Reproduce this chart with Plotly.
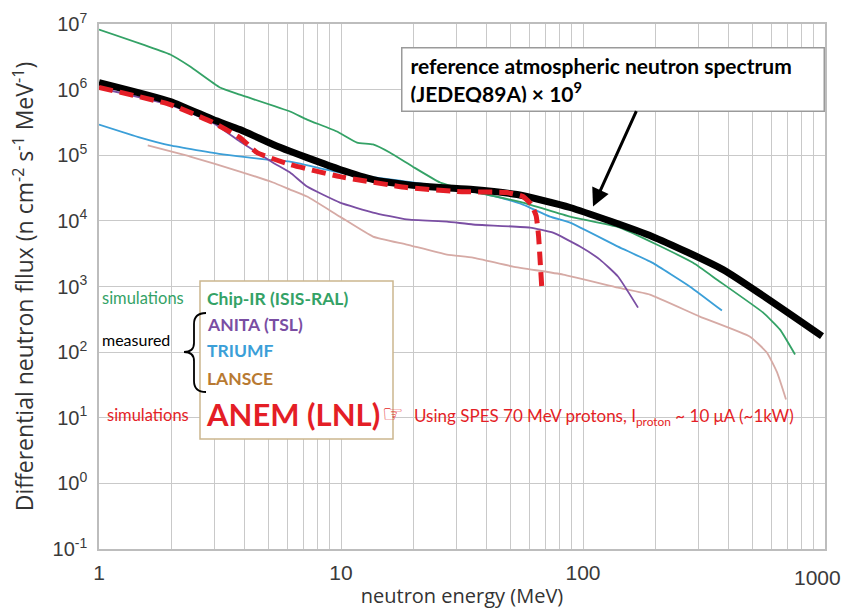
import numpy as np
import plotly.graph_objects as go

# ---------------- data ----------------
ref_E = [1, 1.97, 2.96, 3.82, 5.24, 6.16, 7.24, 9.9, 13.6, 18.7, 25.7, 35.1, 53.4, 88.4, 193, 379, 972]
ref_F = [1.28e6, 6.6e5, 3.5e5, 2.46e5, 1.46e5, 1.15e5, 9.2e4, 6.06e4, 4.26e4, 3.57e4, 3.22e4, 3.0e4, 2.52e4, 1.6e4, 5.8e3, 1.81e3, 175]

chip_E = [1, 1.97, 2.38, 3.16, 3.82, 6.16, 7.24, 9.63, 11.65, 13.56, 15.9, 19.8, 25.7, 35.1, 56.5, 88.4, 142, 285, 358, 555, 652, 752]
chip_F = [8.25e6, 3.43e6, 2.25e6, 1.08e6, 8.4e5, 4.64e5, 3.5e5, 2.3e5, 1.56e5, 1.46e5, 1.1e5, 6.7e4, 3.84e4, 2.8e4, 1.9e4, 1.16e4, 7.9e3, 2.3e3, 1.27e3, 400, 220, 92]

anita_E = [1, 1.97, 2.96, 3.82, 5.24, 6.16, 7.24, 9.9, 13.56, 18.7, 27.4, 35.1, 60.4, 75.2, 97.2, 117.5, 139.5, 168.8]
anita_F = [1.06e6, 5.85e5, 3.1e5, 1.62e5, 7.7e4, 5.45e4, 3.33e4, 1.9e4, 1.34e4, 1.05e4, 9.76e3, 8.8e3, 7.9e3, 6.6e3, 4.06e3, 2.57e3, 1.42e3, 477]

triumf_E = [1, 1.48, 1.97, 3.25, 4.95, 6.16, 9.9, 18.7, 35.1, 45.4, 56.5, 73, 88.4, 139.5, 193, 277, 375]
triumf_F = [2.94e5, 1.86e5, 1.41e5, 1.03e5, 8.6e4, 8.0e4, 5.45e4, 3.97e4, 2.8e4, 2.26e4, 1.77e4, 1.16e4, 9.4e3, 4.06e3, 2.31e3, 995, 430]

lansce_E = [1.59, 2.38, 3.82, 5.24, 6.16, 7.24, 9.9, 13.56, 18.7, 27.4, 35.1, 51.4, 82.7, 139.5, 189, 304, 490, 576, 634, 690]
lansce_F = [1.41e5, 9.55e4, 5.65e4, 3.84e4, 3.0e4, 2.35e4, 1.16e4, 5.77e3, 4.36e3, 3.06e3, 2.76e3, 2.01e3, 1.52e3, 961, 753, 348, 172, 98, 49, 19]

anem_E = [1, 1.97, 2.96, 3.82, 4.5, 6.16, 9.9, 18.7, 30.2, 48.5, 56.5, 61, 64, 65.5, 66.5, 67.7]
anem_F = [1.08e6, 5.93e5, 3.15e5, 1.86e5, 1.1e5, 7.2e4, 4.73e4, 3.22e4, 2.8e4, 2.7e4, 2.35e4, 1.8e4, 1.2e4, 6e3, 2.5e3, 850]

x_tick_labels = ["1", "10", "100", "1000"]
y_exponents = [-1, 0, 1, 2, 3, 4, 5, 6, 7]

# ---------------- colours ----------------
C_GREEN = "#34a266"
C_PURPLE = "#7a4ea3"
C_BLUE = "#3b9fd8"
C_PINK = "#d6aaa5"
C_BROWN = "#b87a32"
C_RED = "#e41e26"

fig = go.Figure()

def line(x, y, color, width, dash=None, smooth=0.4):
    fig.add_trace(go.Scatter(x=x, y=y, mode="lines",
                             line=dict(color=color, width=width, dash=dash,
                                       shape="spline", smoothing=smooth),
                             hoverinfo="skip", showlegend=False))

line(lansce_E, lansce_F, C_PINK, 1.8)
line(triumf_E, triumf_F, C_BLUE, 1.8)
line(anita_E, anita_F, C_PURPLE, 1.8)
line(chip_E, chip_F, C_GREEN, 1.8)
line(ref_E, ref_F, "black", 7, smooth=0.5)
line(anem_E, anem_F, C_RED, 5, dash="14px,7px", smooth=0.4)

# ---------------- axes ----------------
xt_vals = []
xt_text = []
for dec in [1, 10, 100]:
    for m in range(1, 10):
        xt_vals.append(m * dec)
        xt_text.append(x_tick_labels[[1, 10, 100].index(dec)] if m == 1 else "")
xt_vals.append(1000)
xt_text.append("")  # last label drawn as an annotation so it stays inside the page

grid = "#c9c9c9"
TICKFONT_X = dict(family="Liberation Sans, Arial", size=21, color="#3a3a3a")
fig.update_xaxes(type="log", range=[0, 3], tickvals=xt_vals, ticktext=xt_text,
                 showgrid=True, gridcolor=grid, gridwidth=1, automargin=False,
                 showline=True, linecolor="#bdbdbd", linewidth=1.5, mirror=True,
                 ticks="outside", ticklen=4, tickcolor="rgba(0,0,0,0)",
                 tickfont=TICKFONT_X,
                 title=dict(text="neutron energy (MeV)", standoff=6,
                            font=dict(family="Open Sans", size=20, color="#333333")),
                 zeroline=False)

fig.update_yaxes(type="log", range=[-1, 7],
                 tickvals=[10.0 ** e for e in y_exponents],
                 ticktext=["10<sup>%d</sup>" % e for e in y_exponents],
                 ticklabeloverflow="allow",
                 showgrid=True, gridcolor=grid, gridwidth=1, automargin=False,
                 showline=True, linecolor="#bdbdbd", linewidth=1.5, mirror=True,
                 ticks="outside", ticklen=6, tickcolor="rgba(0,0,0,0)",
                 tickfont=dict(family="Liberation Sans, Arial", size=20, color="#3a3a3a"),
                 title=dict(text="Differential neutron fllux (n cm<sup>-2</sup> s<sup>-1</sup> MeV<sup>-1</sup>)",
                            standoff=12,
                            font=dict(family="Open Sans", size=23, color="#333333")),
                 zeroline=False)

# ---------------- layout helpers (pixel -> paper) ----------------
L, R, T, B = 99, 18, 24, 67
W, H = 843, 616
PW, PH = W - L - R, H - T - B

def px(x):
    return (x - L) / PW

def py(y):
    return (H - B - y) / PH

shapes = []
# legend box
shapes.append(dict(type="rect", xref="paper", yref="paper",
                   x0=px(200), x1=px(393), y0=py(439), y1=py(281),
                   line=dict(color="#cbb68e", width=1.5), fillcolor="white", layer="above"))
# curly brace
pts = [(206, 313), (194, 313), (194, 324), (194, 343), (194, 352), (184, 352),
       (194, 352), (194, 361), (194, 381), (194, 392), (206, 392)]
P = [(px(a), py(b)) for a, b in pts]
path = ("M {0[0]},{0[1]} Q {1[0]},{1[1]} {2[0]},{2[1]} L {3[0]},{3[1]} "
        "Q {4[0]},{4[1]} {5[0]},{5[1]} Q {6[0]},{6[1]} {7[0]},{7[1]} "
        "L {8[0]},{8[1]} Q {9[0]},{9[1]} {10[0]},{10[1]}").format(*P)
shapes.append(dict(type="path", xref="paper", yref="paper", path=path,
                   line=dict(color="black", width=1.8), layer="above"))

ann = []
def txt(x, y, text, color, size, family="Lato", bold=False, xanchor="left"):
    ann.append(dict(xref="paper", yref="paper", x=px(x), y=py(y), xanchor=xanchor, yanchor="middle",
                    text=("<b>%s</b>" % text) if bold else text, showarrow=False,
                    font=dict(family=family, size=size, color=color)))

# last x tick label
ann.append(dict(xref="paper", yref="paper", x=px(842), y=py(577), xanchor="right", yanchor="middle",
                text=x_tick_labels[3], showarrow=False, borderpad=0, font=TICKFONT_X))

txt(205, 298, "Chip-IR (ISIS-RAL)", C_GREEN, 17.5, bold=True)
txt(205, 325, "ANITA (TSL)", C_PURPLE, 17.5, bold=True)
txt(205, 351, "TRIUMF", C_BLUE, 17.5, bold=True)
txt(205, 378, "LANSCE", C_BROWN, 17.5, bold=True)
txt(204, 414, "ANEM (LNL)", C_RED, 31, bold=True)
txt(100, 298, "simulations", C_GREEN, 16.5)
txt(100, 339, "measured", "black", 16)
txt(105, 415, "simulations", C_RED, 16.5)
txt(380, 414, "☞", C_RED, 24, family="DejaVu Sans")
txt(412, 417, "Using SPES 70 MeV protons, I<sub>proton</sub> ~ 10 μA (~1kW)", C_RED, 17)

# reference box
ann.append(dict(xref="paper", yref="paper", x=px(401), y=py(47), xanchor="left", yanchor="top",
                text="<b>reference atmospheric neutron spectrum<br>(JEDEQ89A) × 10<sup>9</sup></b>",
                showarrow=False, align="left", width=405, height=46, borderpad=8,
                bordercolor="#9a9a9a", borderwidth=1.5, bgcolor="white",
                font=dict(family="Lato", size=21, color="black")))
# arrow
ann.append(dict(xref="x", yref="y", x=np.log10(110), y=np.log10(1.65e4), text="",
                showarrow=True, ax=44, ay=-97, arrowhead=2, arrowsize=1.2,
                arrowwidth=3, arrowcolor="black"))

fig.update_layout(width=W, height=H, margin=dict(l=L, r=R, t=T, b=B),
                  paper_bgcolor="white", plot_bgcolor="white",
                  shapes=shapes, annotations=ann, showlegend=False)

fig.write_html("out.html")
